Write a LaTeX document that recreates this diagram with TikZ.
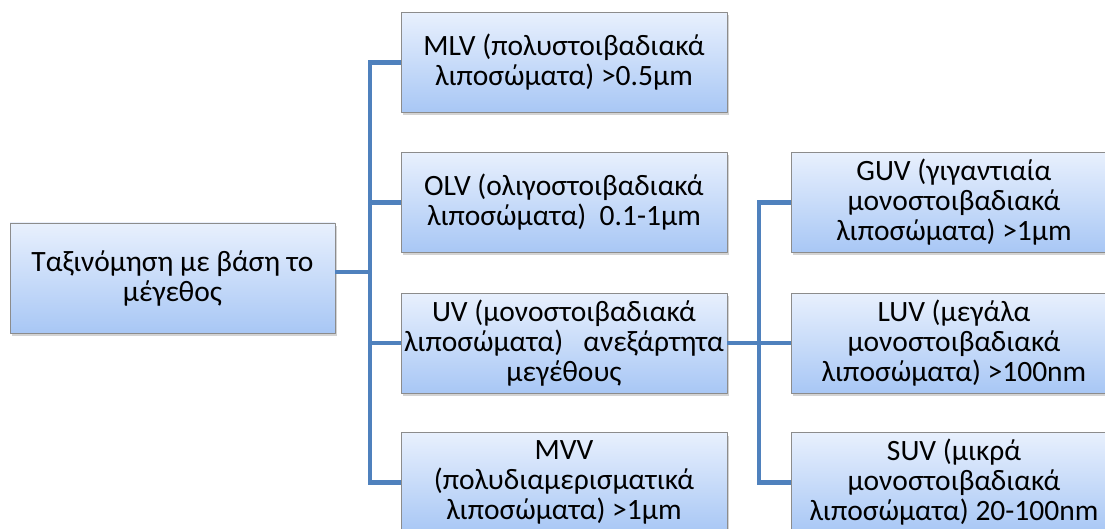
\documentclass[tikz,border=0pt]{standalone}
\usepackage{fontspec}
\setmainfont{Carlito}
\usetikzlibrary{shadows}
\definecolor{linkblue}{RGB}{79,129,189}
\definecolor{boxtop}{RGB}{232,240,253}
\definecolor{boxbot}{RGB}{168,199,245}
\tikzset{
	sizebox/.style={draw=gray!90,line width=0.8pt,top color=boxtop,bottom color=boxbot,
		minimum width=326,minimum height=100,align=center,inner sep=1pt,
		drop shadow={opacity=0.35,shadow xshift=2pt,shadow yshift=-3pt}},
	link/.style={draw=linkblue,line width=4.5pt,line cap=butt,line join=miter}
}
\begin{document}
\begin{tikzpicture}[x=1pt,y=-1pt,line join=round,line cap=round,font=\fontsize{29.5}{30}\selectfont]
	\useasboundingbox (0,0) rectangle (1105,529);
	\node[sizebox,minimum width=325,minimum height=110] (root) at (172.5,278) {Ταξινόμηση με βάση το\\μέγεθος};
	\node[sizebox] (mlv) at (564,62.5) {MLV (πολυστοιβαδιακά\\λιποσώματα) >0.5μm};
	\node[sizebox] (olv) at (564,202.5) {OLV (ολιγοστοιβαδιακά\\λιποσώματα)\ \ 0.1-1μm};
	\node[sizebox] (uv) at (564,343) {UV (μονοστοιβαδιακά\\λιποσώματα)\ \ \ ανεξάρτητα\\μεγέθους};
	\node[sizebox] (mvv) at (564,482.5) {MVV\\(πολυδιαμερισματικά\\λιποσώματα) >1μm};
	\node[sizebox] (guv) at (954,202.5) {GUV (γιγαντιαία\\μονοστοιβαδιακά\\λιποσώματα) >1μm};
	\node[sizebox] (luv) at (954,343) {LUV (μεγάλα\\μονοστοιβαδιακά\\λιποσώματα) >100nm};
	\node[sizebox] (suv) at (954,482.5) {SUV (μικρά\\μονοστοιβαδιακά\\λιποσώματα) 20-100nm};
	\path
	(370,272)coordinate(j1)
	(759,343)coordinate(j2)
	;
	% first level
	\draw[link] (root.east|-j1)--(j1);
	\foreach \n in {mlv,olv,uv,mvv}
		\draw[link] (j1)|-(\n.west);
	% second level
	\draw[link] (uv.east|-j2)--(j2);
	\foreach \n in {guv,luv,suv}
		\draw[link] (j2)|-(\n.west);
\end{tikzpicture}
\end{document}
